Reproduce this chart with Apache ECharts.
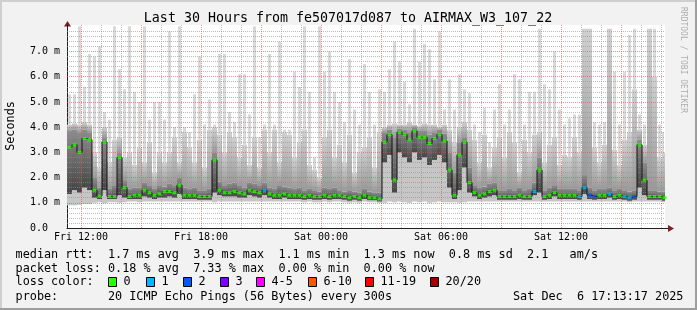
<!DOCTYPE html>
<html><head><meta charset="utf-8">
<script src="https://cdn.jsdelivr.net/npm/echarts@6/dist/echarts.min.js"></script>
<style>html,body{margin:0;padding:0;background:#f2f2f2;}#c{width:697px;height:310px;}</style>
</head><body><div id="c"></div>
<script>
// ---- time base (hours since Fri 00:00) ----
const START_HOUR = 11.3;
const STEP_HOURS = 0.25;
const END_HOUR = 41.2;
const Y_MAX = 8.05;

// ---- data (milliseconds) ----
const medianMs = [
 3.2,3.3,3.0,3.55,3.5,1.5,1.27,3.4,1.25,1.25,
 2.8,1.6,1.25,1.3,1.3,1.5,1.4,1.3,1.35,1.45,
 1.45,1.4,1.7,1.3,1.3,1.3,1.25,1.25,1.25,2.7,
 1.5,1.4,1.4,1.45,1.4,1.35,1.5,1.45,1.4,1.5,
 1.35,1.3,1.3,1.35,1.3,1.3,1.3,1.25,1.3,1.25,
 1.25,1.3,1.25,1.3,1.3,1.25,1.2,1.25,1.2,1.3,
 1.2,1.2,1.15,3.4,3.7,1.9,3.8,3.7,3.5,3.85,
 3.6,3.6,3.35,3.55,3.7,3.45,2.3,1.3,2.9,3.4,
 1.8,1.4,1.3,1.35,1.45,1.5,1.25,1.25,1.25,1.25,
 1.3,1.25,1.25,1.45,2.3,1.25,1.3,1.4,1.3,1.3,
 1.3,1.3,1.25,1.6,1.3,1.25,1.3,1.3,1.35,1.25,
 1.3,1.25,1.2,1.25,3.3,1.9,1.25,1.25,1.25,1.2];
const minMs = [
 0.9,0.9,0.92,0.95,0.95,1.0,1.02,0.98,1.02,1.02,
 1.0,1.02,1.05,1.05,1.02,1.05,1.05,1.05,1.05,1.05,
 1.05,1.05,1.05,1.05,1.05,1.05,1.05,1.05,1.05,1.02,
 1.05,1.05,1.05,1.05,1.05,1.05,1.05,1.05,1.05,1.05,
 1.05,1.05,1.05,1.05,1.05,1.05,1.05,1.02,1.05,1.02,
 1.02,1.05,1.02,1.05,1.05,1.02,1.0,1.02,1.0,1.05,
 1.02,1.02,1.0,1.0,1.05,1.02,1.05,1.02,1.0,1.05,
 1.02,1.05,1.0,1.02,1.05,1.02,1.02,1.02,1.0,1.02,
 1.05,1.05,1.05,1.05,1.05,1.05,1.05,1.05,1.05,1.05,
 1.05,1.05,1.05,1.05,1.05,1.05,1.05,1.05,1.05,1.05,
 1.05,1.05,1.05,1.05,1.05,1.05,1.05,1.05,1.05,1.05,
 1.05,1.05,1.02,1.05,1.05,1.05,1.05,1.05,1.05,1.02];
const p25Ms = [
 1.35,1.5,1.4,1.6,1.5,1.2,1.15,1.5,1.15,1.15,
 1.3,1.2,1.15,1.15,1.15,1.25,1.2,1.15,1.2,1.2,
 1.25,1.2,1.35,1.15,1.15,1.15,1.12,1.12,1.12,1.4,
 1.3,1.25,1.25,1.25,1.2,1.2,1.3,1.25,1.2,1.3,
 1.2,1.15,1.15,1.2,1.15,1.15,1.15,1.12,1.15,1.12,
 1.12,1.15,1.12,1.15,1.15,1.12,1.08,1.12,1.08,1.15,
 1.1,1.1,1.05,2.6,2.9,1.4,3.0,2.8,2.6,3.0,
 2.7,2.8,2.5,2.7,2.9,2.6,1.6,1.15,1.5,2.4,
 1.4,1.25,1.15,1.2,1.25,1.3,1.12,1.12,1.12,1.12,
 1.15,1.12,1.12,1.3,1.4,1.12,1.15,1.25,1.15,1.15,
 1.15,1.15,1.12,1.35,1.15,1.12,1.15,1.15,1.2,1.12,
 1.15,1.12,1.08,1.12,1.6,1.3,1.12,1.12,1.12,1.08];
const p75Ms = [
 3.85,3.9,3.8,3.9,3.8,2.0,1.6,3.6,1.55,1.7,
 3.0,1.9,1.55,1.6,1.6,1.8,1.7,1.55,1.7,1.65,
 1.75,1.7,2.0,1.6,1.55,1.6,1.5,1.5,1.55,3.0,
 1.85,1.7,1.75,1.8,1.7,1.6,1.8,1.75,1.7,1.8,
 1.6,1.55,1.7,1.65,1.6,1.55,1.6,1.5,1.55,1.5,
 1.45,1.6,1.55,1.6,1.5,1.45,1.5,1.45,1.4,1.55,
 1.45,1.4,1.4,3.8,3.9,3.6,3.95,3.9,3.8,4.0,
 3.85,3.85,3.7,3.8,3.9,3.75,3.0,2.2,3.4,3.6,
 2.4,1.7,1.6,1.65,1.75,1.8,1.5,1.5,1.55,1.5,
 1.6,1.5,1.55,1.8,2.8,1.5,1.6,1.7,1.55,1.55,
 1.55,1.55,1.5,2.1,1.6,1.5,1.55,1.55,1.6,1.5,
 1.55,1.5,1.45,1.5,3.5,2.6,1.5,1.5,1.45,1.45];
const p90Ms = [
 4.1,4.15,4.1,4.2,4.1,3.0,2.4,4.0,2.6,3.5,
 3.6,2.8,3.0,2.5,3.2,2.6,3.4,2.2,3.0,2.6,
 3.0,3.6,2.6,3.8,3.2,2.6,3.5,2.4,3.9,4.0,
 3.7,3.0,3.8,3.6,2.8,3.3,2.5,3.6,2.4,3.9,
 3.0,3.9,2.6,3.8,3.7,2.8,3.4,3.9,2.5,2.3,
 2.0,3.6,3.9,2.8,3.3,2.6,3.7,2.2,3.0,3.2,
 3.6,2.4,3.8,4.0,4.1,4.15,4.1,4.1,4.2,4.1,
 4.05,4.15,4.1,4.1,4.0,4.1,3.9,3.4,4.0,4.2,
 3.9,3.5,2.6,3.7,2.4,3.2,3.6,2.8,3.8,3.4,
 2.2,3.5,3.0,3.7,3.8,2.6,3.3,3.6,2.5,2.9,
 2.8,3.6,3.0,7.9,7.9,3.2,2.6,3.3,7.9,3.1,
 2.5,3.5,3.8,5.5,3.9,3.3,7.9,6.0,2.8,3.0];
const maxMs = [
 5.3,5.3,8.0,5.6,6.9,6.8,7.2,4.6,4.3,8.0,
 6.3,5.5,8.0,5.4,5.0,8.0,4.3,5.0,5.0,4.3,
 7.8,4.0,8.0,4.0,3.8,5.3,6.8,4.1,5.1,4.1,
 6.9,6.9,4.6,4.2,6.1,6.1,4.5,8.0,3.6,4.1,
 6.9,4.1,7.4,3.9,3.9,6.2,5.6,8.0,5.4,2.8,
 8.0,6.2,7.0,5.4,5.0,4.2,6.7,4.7,4.1,6.5,
 5.4,4.1,5.5,5.4,6.3,7.4,6.6,5.8,4.9,7.9,
 6.6,7.3,7.1,5.9,7.8,4.7,5.9,4.7,6.1,5.5,
 5.35,4.1,3.8,4.75,3.4,4.7,5.7,4.1,4.7,6.1,
 5.9,4.1,5.4,5.4,7.9,5.7,5.5,7.0,4.7,4.1,
 4.35,4.5,4.5,7.9,7.9,4.2,4.1,4.2,7.9,6.2,
 4.1,6.2,7.65,7.9,4.5,4.1,7.9,7.9,4.1,3.8];
const lostPings = [
 0,0,0,0,0,0,0,0,0,0, 0,0,0,0,0,0,0,0,0,0,
 0,0,0,0,0,0,0,0,0,0, 0,0,0,0,0,0,0,0,0,1,
 0,0,0,0,0,0,0,0,0,0, 0,0,0,0,0,0,0,0,0,0,
 0,0,0,0,0,0,0,0,0,0, 0,0,0,0,0,0,0,0,0,0,
 0,0,0,0,0,0,0,0,0,0, 0,0,0,1,0,0,0,0,0,0,
 0,0,1,1,2,2,0,0,1,0, 0,1,1,2,0,0,0,0,0,0];

// ---- ticks / legend ----
const xLabelHours = [12, 18, 24, 30, 36];
const xLabelTexts = ['Fri 12:00', 'Fri 18:00', 'Sat 00:00', 'Sat 06:00', 'Sat 12:00'];
const yTickValues = [0, 1, 2, 3, 4, 5, 6, 7];
const lossLabels = ['0', '1', '2', '3', '4-5', '6-10', '11-19', '20/20'];
const lossColors = ['#26ff00', '#00b8ff', '#0059ff', '#7e00ff', '#ff00ff', '#ff5500', '#ff0000', '#a10000'];
const statLines = [
  'median rtt:  1.7 ms avg  3.9 ms max  1.1 ms min  1.3 ms now  0.8 ms sd  2.1   am/s',
  'packet loss: 0.18 % avg  7.33 % max  0.00 % min  0.00 % now'
];
const titleText = 'Last 30 Hours from fe507017d087 to AIRMAX_W3_107_22';
const probeText = 'probe:       20 ICMP Echo Pings (56 Bytes) every 300s';
const dateText = 'Sat Dec  6 17:13:17 2025';

// ---- layout / style ----
const GRID = {left: 67, top: 25, width: 598, height: 203};
const MONO = '"DejaVu Sans Mono", monospace';
const MAJOR = 'rgba(222,79,79,0.6)';
const MINOR = 'rgba(143,143,143,0.6)';

function lossBucket(n) {
  if (n <= 3) return n;
  if (n <= 5) return 4;
  if (n <= 10) return 5;
  if (n <= 19) return 6;
  return 7;
}

const smokeRows = medianMs.map((_, i) => [START_HOUR + i * STEP_HOURS, minMs[i], p25Ms[i], p75Ms[i], p90Ms[i], maxMs[i]]);
const medianRows = medianMs.map((m, i) => [START_HOUR + (i + 0.5) * STEP_HOURS, m, lostPings[i]]);

const darkGradient = new echarts.graphic.LinearGradient(0, 0, 0, 1, [
  {offset: 0, color: '#8c8c8c'}, {offset: 1, color: '#464646'}]);
const midGradient = new echarts.graphic.LinearGradient(0, 0, 0, 1, [
  {offset: 0, color: '#d0d0d0'}, {offset: 1, color: '#9a9a9a'}]);
const BAND_FILLS = ['#c6c6c6', darkGradient, midGradient, '#d9d9d9'];
// fraction of the sample width used by each band (outer spikes are thin)
const BAND_WIDTHS = [1, 1, 1, 0.5];

function renderSmoke(params, api) {
  const t = api.value(0);
  const plotRight = params.coordSys.x + params.coordSys.width;
  const x0 = Math.round(api.coord([t, 0])[0]);
  const x1 = Math.round(Math.min(api.coord([t + STEP_HOURS, 0])[0], plotRight));
  const ys = [1, 2, 3, 4, 5].map(k => api.coord([t, Math.min(api.value(k), Y_MAX)])[1]);
  const children = [];
  for (let k = 0; k < 4; k++) {
    const yTop = ys[k + 1], yBot = ys[k];
    if (yBot - yTop <= 0) continue;
    const w = Math.max(1, Math.round((x1 - x0) * BAND_WIDTHS[k]));
    const xs = k === 3 ? x0 + Math.floor((x1 - x0 - w) / 2) : x0;
    children.push({type: 'rect', shape: {x: xs, y: yTop, width: w, height: yBot - yTop},
      style: {fill: BAND_FILLS[k]}});
  }
  return {type: 'group', children};
}

// grid lines
const gridLines = [];
for (let h = Math.ceil(START_HOUR); h <= Math.floor(END_HOUR); h++) {
  if (h % 3 !== 0) gridLines.push({xAxis: h, lineStyle: {color: MINOR, width: 1, type: [1, 1]}});
}
for (let k = 1; k * 0.2 <= Y_MAX; k++) {
  if (k % 5 !== 0) gridLines.push({yAxis: +(k * 0.2).toFixed(1), lineStyle: {color: MINOR, width: 1, type: [1, 1]}});
}
for (let h = Math.ceil(START_HOUR); h <= Math.floor(END_HOUR); h++) {
  if (h % 3 === 0) gridLines.push({xAxis: h, lineStyle: {color: MAJOR, width: 1, type: [1, 1]}});
}
yTickValues.forEach(v => { if (v > 0) gridLines.push({yAxis: v, lineStyle: {color: MAJOR, width: 1, type: [1, 1]}}); });

// text / decoration graphics
const gx = GRID.left, gyB = GRID.top + GRID.height, gxR = GRID.left + GRID.width;
const graphics = [
  {type: 'rect', shape: {x: 0, y: 0, width: 697, height: 2}, style: {fill: '#cfcfcf'}, silent: true},
  {type: 'rect', shape: {x: 0, y: 0, width: 2, height: 310}, style: {fill: '#cfcfcf'}, silent: true},
  {type: 'rect', shape: {x: 0, y: 308, width: 697, height: 2}, style: {fill: '#9e9e9e'}, silent: true},
  {type: 'rect', shape: {x: 695, y: 0, width: 2, height: 310}, style: {fill: '#9e9e9e'}, silent: true},
  {type: 'text', x: 348, y: 19, style: {text: titleText, font: '13.3px ' + MONO, fill: '#000', textAlign: 'center', textVerticalAlign: 'middle'}},
  {type: 'text', x: 683, y: 60, rotation: -Math.PI / 2, style: {text: 'RRDTOOL / TOBI OETIKER', font: '8px ' + MONO, fill: 'rgba(0,0,0,0.3)', textAlign: 'center', textVerticalAlign: 'middle'}},
  {type: 'text', x: 11, y: 126, rotation: Math.PI / 2, style: {text: 'Seconds', font: '11.8px ' + MONO, fill: '#000', textAlign: 'center', textVerticalAlign: 'middle'}},
  {type: 'text', x: 15.6, y: 255, style: {text: statLines[0], font: '11.8px ' + MONO, fill: '#000', textVerticalAlign: 'middle'}},
  {type: 'text', x: 15.6, y: 268.5, style: {text: statLines[1], font: '11.8px ' + MONO, fill: '#000', textVerticalAlign: 'middle'}},
  {type: 'text', x: 15.6, y: 282, style: {text: 'loss color:', font: '11.8px ' + MONO, fill: '#000', textVerticalAlign: 'middle'}},
  {type: 'text', x: 15.6, y: 296.5, style: {text: probeText, font: '11.8px ' + MONO, fill: '#000', textVerticalAlign: 'middle'}},
  {type: 'text', x: 513, y: 296.5, style: {text: dateText, font: '11.8px ' + MONO, fill: '#000', textVerticalAlign: 'middle'}},
  // axis extensions and arrows
  {type: 'line', shape: {x1: gxR, y1: gyB + 0.5, x2: gxR + 4, y2: gyB + 0.5}, style: {stroke: '#1f1f1f', lineWidth: 1}},
  {type: 'polygon', shape: {points: [[gxR + 3, gyB - 3], [gxR + 3, gyB + 4], [gxR + 9, gyB + 0.5]]}, style: {fill: '#801f1f'}},
  {type: 'polygon', shape: {points: [[gx - 3, GRID.top + 1.5], [gx + 4, GRID.top + 1.5], [gx + 0.5, GRID.top - 4]]}, style: {fill: '#801f1f'}}
];
const boxX = [108, 146, 183, 220, 256, 308, 365, 430];
lossLabels.forEach((lab, i) => {
  graphics.push({type: 'rect', shape: {x: boxX[i] + 0.5, y: 277.5, width: 8, height: 9}, style: {fill: lossColors[i], stroke: '#000', lineWidth: 1}});
  graphics.push({type: 'text', x: boxX[i] + 15.5, y: 282, style: {text: lab, font: '11.8px ' + MONO, fill: '#000', textVerticalAlign: 'middle'}});
});

const chart = echarts.init(document.getElementById('c'), null, {renderer: 'canvas'});
chart.setOption({
  animation: false,
  backgroundColor: '#f2f2f2',
  grid: {left: GRID.left, top: GRID.top, width: GRID.width, height: GRID.height, show: true, backgroundColor: '#ffffff', borderWidth: 0},
  xAxis: {
    type: 'value', min: START_HOUR, max: END_HOUR,
    splitLine: {show: false}, axisTick: {show: false},
    axisLine: {show: true, lineStyle: {color: '#1f1f1f', width: 1}},
    axisLabel: {customValues: xLabelHours, margin: 4, fontFamily: MONO, fontSize: 10, color: '#000',
      formatter: v => { const k = xLabelHours.indexOf(Math.round(v)); return k >= 0 ? xLabelTexts[k] : ''; }}
  },
  yAxis: {
    type: 'value', min: 0, max: Y_MAX,
    splitLine: {show: false}, axisTick: {show: false},
    axisLine: {show: true, lineStyle: {color: '#1f1f1f', width: 1}},
    axisLabel: {customValues: yTickValues, margin: 7, fontFamily: MONO, fontSize: 10, color: '#000',
      formatter: v => v === 0 ? '0.0  ' : v.toFixed(1) + ' m'}
  },
  graphic: graphics,
  series: [
    {type: 'custom', z: 1, data: smokeRows, encode: {x: 0, y: [1, 2, 3, 4, 5]}, renderItem: renderSmoke, silent: true},
    {type: 'line', z: 4, data: medianRows.map(r => [r[0], r[1]]), step: 'middle', showSymbol: false,
      lineStyle: {color: '#111', width: 1}, silent: true,
      markLine: {z: 3, silent: true, symbol: ['none', 'none'], label: {show: false}, animation: false, data: gridLines}},
    {type: 'scatter', z: 5, data: medianRows, symbol: 'rect', symbolSize: [4, 3], silent: true,
      itemStyle: {color: p => lossColors[lossBucket(p.value[2])]}}
  ]
});
</script></body></html>
